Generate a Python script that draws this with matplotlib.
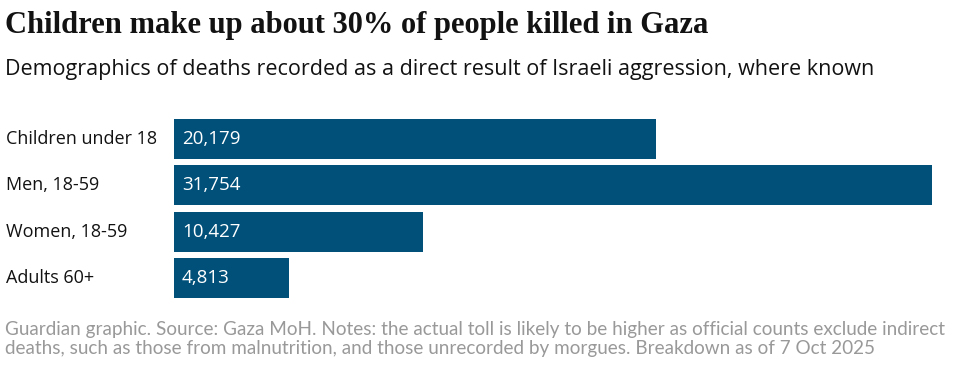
import matplotlib
matplotlib.use("Agg")
import matplotlib.pyplot as plt

# data
categories = ["Children under 18", "Men, 18-59", "Women, 18-59", "Adults 60+"]
deaths = [20179, 31754, 10427, 4813]

title = "Children make up about 30% of people killed in Gaza"
subtitle = "Demographics of deaths recorded as a direct result of Israeli aggression, where known"
note = ("Guardian graphic. Source: Gaza MoH. Notes: the actual toll is likely to be higher as official counts exclude indirect\n"
        "deaths, such as those from malnutrition, and those unrecorded by morgues. Breakdown as of 7 Oct 2025")

BAR_COLOR = "#00507a"
TEXT_COLOR = "#121212"
NOTE_COLOR = "#999999"

W, H = 965, 375
fig = plt.figure(figsize=(W / 100, H / 100), dpi=100)

# axes placed in pixel terms
left, right, top, bottom = 174, 932, 119, 298
ax = fig.add_axes([left / W, 1 - bottom / H, (right - left) / W, (bottom - top) / H])

bar_h = 0.86
ypos = list(range(len(categories)))
ax.barh(ypos, deaths, height=bar_h, color=BAR_COLOR)
ax.set_xlim(0, max(deaths))
ax.set_ylim(len(categories) - 1 + bar_h / 2, -bar_h / 2)
ax.axis("off")

for y, cat, v in zip(ypos, categories, deaths):
    ax.text(-168 / (right - left) * max(deaths), y, cat, ha="left", va="center",
            fontsize=13, color=TEXT_COLOR, family="Open Sans")
    ax.text(8 / (right - left) * max(deaths), y, f"{v:,}", ha="left", va="center",
            fontsize=13.5, color="white", family="Open Sans")

fig.text(5 / W, 1 - 25 / H, title, ha="left", va="center", fontsize=22,
         family="Liberation Serif", weight="bold", color=TEXT_COLOR)
fig.text(5 / W, 1 - 70 / H, subtitle, ha="left", va="center", fontsize=15.45,
         family="Open Sans", color=TEXT_COLOR)
fig.text(5 / W, 1 - 339 / H, note, ha="left", va="center", fontsize=13.6,
         family="Lato", color=NOTE_COLOR, linespacing=1.2)

fig.savefig("out.png", dpi=100)
